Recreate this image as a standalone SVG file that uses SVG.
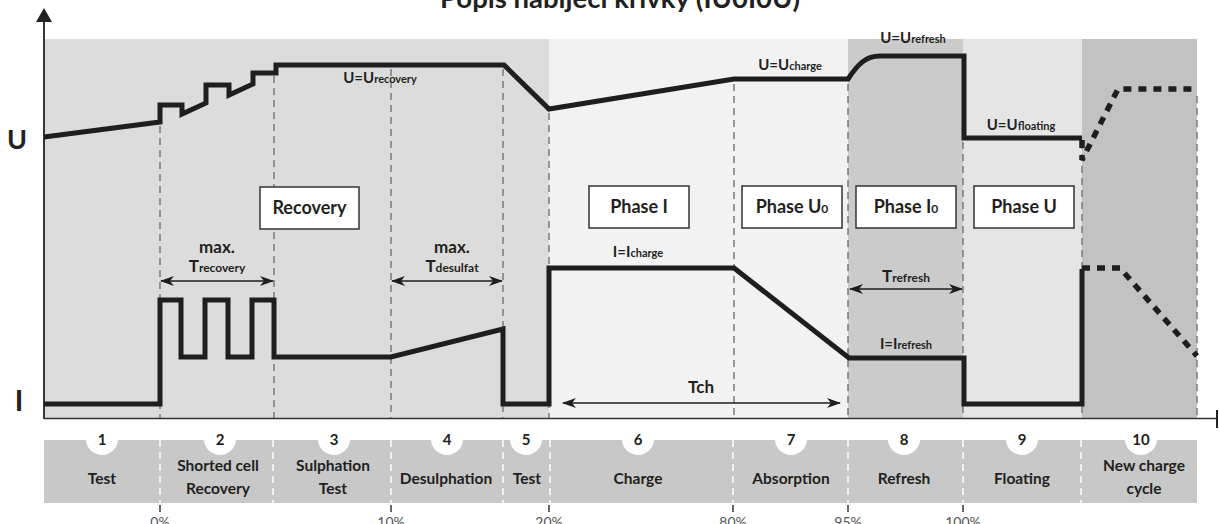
<svg xmlns="http://www.w3.org/2000/svg" width="1219" height="524" viewBox="0 0 1219 524">
<style>
text{font-family:Lato,"Open Sans","Liberation Sans",sans-serif;font-weight:bold;fill:#231f20}
.guide{stroke:#7a7a7a;stroke-width:1.5;stroke-dasharray:7 5;fill:none}
.sep{stroke:#ffffff;stroke-width:1.5;stroke-dasharray:7 5;fill:none}
.curve{stroke:#1e1e1e;stroke-width:5;fill:none;stroke-linejoin:miter}
.dot{stroke:#1e1e1e;stroke-width:5.5;fill:none;stroke-dasharray:8 7}
.arrow{stroke:#1e1e1e;stroke-width:1.5;fill:none;marker-start:url(#ah);marker-end:url(#ah)}
.box{fill:#ffffff;stroke:#333333;stroke-width:1.5}
.bt{font-size:18px;text-anchor:middle}
.lbl{font-size:15px;text-anchor:middle}
.sub{font-size:11px}
.num{font-size:15px;text-anchor:middle}
.pct{font-size:14px;font-weight:normal;fill:#555555;text-anchor:middle}
.bl{font-size:15.5px;text-anchor:middle}
.tick{stroke:#333333;stroke-width:1.5}
</style>
<defs>
<marker id="ah" viewBox="0 0 14 10" refX="13" refY="5" markerWidth="14" markerHeight="10" markerUnits="userSpaceOnUse" orient="auto-start-reverse"><path d="M0,0 L14,5 L0,10 L4,5 Z" fill="#1e1e1e"/></marker>
</defs>

<text x="620" y="8" font-size="27.5" text-anchor="middle">Popis nabíjecí křivky (IU0I0U)</text>

<g id="background">
<rect x="44" y="39" width="505" height="379" fill="#dcdcdc"/>
<rect x="549" y="39" width="299" height="379" fill="#f2f2f2"/>
<rect x="848" y="39" width="115" height="379" fill="#cbcbcb"/>
<rect x="963" y="39" width="119" height="379" fill="#e5e5e5"/>
<rect x="1082" y="39" width="115" height="379" fill="#c2c2c2"/>
</g>

<g id="guides">
<line class="guide" x1="160" y1="126" x2="160" y2="418"/>
<line class="guide" x1="274" y1="76" x2="274" y2="418"/>
<line class="guide" x1="391" y1="69" x2="391" y2="418"/>
<line class="guide" x1="503" y1="69" x2="503" y2="418"/>
<line class="guide" x1="549" y1="113" x2="549" y2="418"/>
<line class="guide" x1="734" y1="84" x2="734" y2="418"/>
<line class="guide" x1="848" y1="84" x2="848" y2="418"/>
<line class="guide" x1="963" y1="142" x2="963" y2="418"/>
<line class="guide" x1="1082" y1="142" x2="1082" y2="418"/>
<line class="guide" x1="1197" y1="96" x2="1197" y2="418"/>
</g>

<g id="axes">
<line x1="44" y1="20" x2="44" y2="419" stroke="#222" stroke-width="1.8"/>
<polygon points="44,8 36,22 52,22" fill="#222"/>
<line x1="44" y1="418.5" x2="1217" y2="418.5" stroke="#333" stroke-width="1.5"/>
<line x1="1217" y1="410" x2="1217" y2="428" stroke="#222" stroke-width="2"/>
<text x="17" y="149" font-size="27" text-anchor="middle">U</text>
<text x="19" y="411" font-size="29" text-anchor="middle">I</text>
</g>

<g id="curve-U">
<path class="curve" d="M44,137 L160,122 V105 H182 V114 L206,103 V85 H229 V95 L253,84 V73 H276 V65 H504 L549,109 L734,79 H848 C858,64 866,56 880,56 H964 V138 H1082"/>
<path class="dot" d="M1082,140 V160 L1118,89 H1197"/>
</g>

<g id="curve-I">
<path class="curve" d="M44,404 H160 V300 H181 V357 H205 V300 H228 V357 H252 V300 H274 V357 H391 L503,329 V404 H549 V268 H734 L849,358 H964 V404 H1082 V269"/>
<path class="dot" d="M1082,268 H1120 L1197,356"/>
</g>

<g id="curve-labels">
<text class="lbl" x="380" y="83">U=U<tspan class="sub">recovery</tspan></text>
<text class="lbl" x="790" y="70">U=U<tspan class="sub">charge</tspan></text>
<text class="lbl" x="913" y="43">U=U<tspan class="sub">refresh</tspan></text>
<text class="lbl" x="1021" y="130">U=U<tspan class="sub">floating</tspan></text>
<text class="lbl" x="638" y="257">I=I<tspan class="sub">charge</tspan></text>
<text class="lbl" x="906" y="349">I=I<tspan class="sub">refresh</tspan></text>
</g>

<g id="node-recovery"><rect class="box" x="260" y="187" width="99" height="42"/><text class="bt" x="309.5" y="214">Recovery</text></g>
<g id="node-phase-i"><rect class="box" x="589" y="186" width="100" height="42"/><text class="bt" x="639" y="213">Phase I</text></g>
<g id="node-phase-u0"><rect class="box" x="742" y="186" width="100" height="42"/><text class="bt" x="792" y="213">Phase U<tspan font-size="12">0</tspan></text></g>
<g id="node-phase-i0"><rect class="box" x="856" y="186" width="100" height="42"/><text class="bt" x="906" y="213">Phase I<tspan font-size="12">0</tspan></text></g>
<g id="node-phase-u"><rect class="box" x="974" y="186" width="100" height="42"/><text class="bt" x="1024" y="213">Phase U</text></g>

<g id="connectors">
<line class="arrow" x1="161" y1="281" x2="273" y2="281"/>
<line class="arrow" x1="392" y1="281" x2="502" y2="281"/>
<line class="arrow" x1="850" y1="289" x2="962" y2="289"/>
<line class="arrow" x1="563" y1="403" x2="840" y2="403"/>
</g>

<g id="arrow-labels">
<text x="217" y="253" font-size="17" text-anchor="middle">max.</text>
<text x="217" y="272" font-size="17" text-anchor="middle">T<tspan font-size="12">recovery</tspan></text>
<text x="452" y="253" font-size="17" text-anchor="middle">max.</text>
<text x="452" y="272" font-size="17" text-anchor="middle">T<tspan font-size="12">desulfat</tspan></text>
<text x="906" y="282" font-size="17" text-anchor="middle">T<tspan font-size="12">refresh</tspan></text>
<text x="701" y="393" font-size="17" text-anchor="middle">Tch</text>
</g>

<g id="band">
<rect x="44" y="440" width="1153" height="63" fill="#c8c8c8"/>
<line class="sep" x1="160" y1="440" x2="160" y2="503"/>
<line class="sep" x1="273" y1="440" x2="273" y2="503"/>
<line class="sep" x1="391" y1="440" x2="391" y2="503"/>
<line class="sep" x1="503" y1="440" x2="503" y2="503"/>
<line class="sep" x1="550" y1="440" x2="550" y2="503"/>
<line class="sep" x1="733" y1="440" x2="733" y2="503"/>
<line class="sep" x1="848" y1="440" x2="848" y2="503"/>
<line class="sep" x1="963" y1="440" x2="963" y2="503"/>
<line class="sep" x1="1081" y1="440" x2="1081" y2="503"/>
</g>

<g id="step-1"><circle cx="102" cy="439" r="16" fill="#fff"/><text class="num" x="102" y="445">1</text><text class="bl" x="102" y="484">Test</text></g>
<g id="step-2"><circle cx="220" cy="439" r="16" fill="#fff"/><text class="num" x="220" y="445">2</text><text class="bl" x="218" y="471">Shorted cell</text><text class="bl" x="218" y="494">Recovery</text></g>
<g id="step-3"><circle cx="334" cy="439" r="16" fill="#fff"/><text class="num" x="334" y="445">3</text><text class="bl" x="333" y="471">Sulphation</text><text class="bl" x="333" y="494">Test</text></g>
<g id="step-4"><circle cx="447" cy="439" r="16" fill="#fff"/><text class="num" x="447" y="445">4</text><text class="bl" x="446" y="484">Desulphation</text></g>
<g id="step-5"><circle cx="526" cy="439" r="16" fill="#fff"/><text class="num" x="526" y="445">5</text><text class="bl" x="527" y="484">Test</text></g>
<g id="step-6"><circle cx="638" cy="439" r="16" fill="#fff"/><text class="num" x="638" y="445">6</text><text class="bl" x="638" y="484">Charge</text></g>
<g id="step-7"><circle cx="791" cy="439" r="16" fill="#fff"/><text class="num" x="791" y="445">7</text><text class="bl" x="791" y="484">Absorption</text></g>
<g id="step-8"><circle cx="904" cy="439" r="16" fill="#fff"/><text class="num" x="904" y="445">8</text><text class="bl" x="904" y="484">Refresh</text></g>
<g id="step-9"><circle cx="1022" cy="439" r="16" fill="#fff"/><text class="num" x="1022" y="445">9</text><text class="bl" x="1022" y="484">Floating</text></g>
<g id="step-10"><circle cx="1141" cy="439" r="16" fill="#fff"/><text class="num" x="1141" y="445">10</text><text class="bl" x="1144" y="471">New charge</text><text class="bl" x="1144" y="494">cycle</text></g>

<g id="percent">
<line class="tick" x1="160" y1="505" x2="160" y2="512"/>
<line class="tick" x1="391" y1="505" x2="391" y2="512"/>
<line class="tick" x1="549" y1="505" x2="549" y2="512"/>
<line class="tick" x1="733" y1="505" x2="733" y2="512"/>
<line class="tick" x1="848" y1="505" x2="848" y2="512"/>
<line class="tick" x1="963" y1="505" x2="963" y2="512"/>
<text class="pct" x="160" y="527">0%</text>
<text class="pct" x="391" y="527">10%</text>
<text class="pct" x="549" y="527">20%</text>
<text class="pct" x="733" y="527">80%</text>
<text class="pct" x="848" y="527">95%</text>
<text class="pct" x="963" y="527">100%</text>
</g>
</svg>
